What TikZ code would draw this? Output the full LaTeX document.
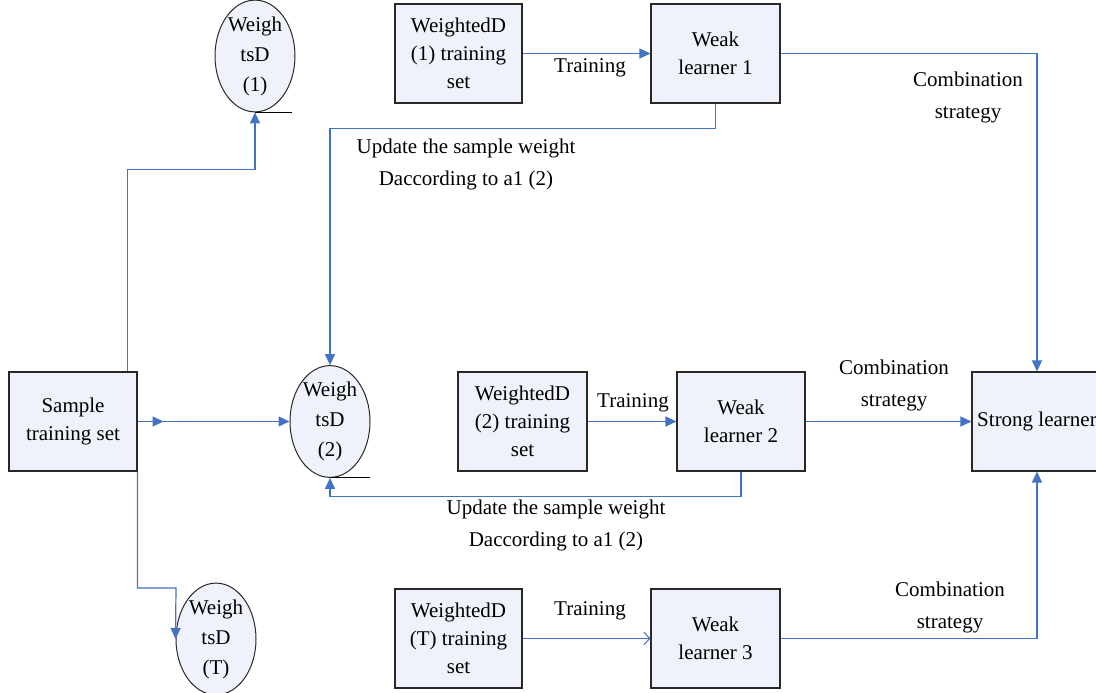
\documentclass[tikz,border=0pt]{standalone}
\usepackage{fontspec}
\setmainfont{Liberation Serif}
\usetikzlibrary{arrows.meta,shapes.geometric}
\definecolor{lineblue}{RGB}{68,114,196}
\definecolor{boxfill}{RGB}{239,242,250}
\definecolor{boxdraw}{RGB}{40,40,40}
\tikzset{
  box/.style={draw=boxdraw, line width=1.1pt, fill=boxfill, minimum width=128pt, minimum height=99pt, align=center, inner sep=2pt, font=\fontsize{21}{28}\selectfont},
  ell/.style={ellipse, draw=boxdraw, line width=1pt, fill=boxfill, minimum width=80pt, minimum height=97pt, align=center, inner sep=0pt, font=\fontsize{21}{30}\selectfont},
  arr/.style={draw=lineblue, line width=1.2pt, -{Triangle[length=11pt,width=10pt]}},
  openarr/.style={draw=lineblue, line width=1.2pt, -{Straight Barb[length=6pt,width=13pt,line width=1pt]}},
  lbl/.style={align=center, inner sep=0pt, font=\fontsize{21}{32}\selectfont},
  uline/.style={draw=black, line width=1pt}
}
\begin{document}
\begin{tikzpicture}[x=1pt,y=-1pt]
\useasboundingbox (0,0) rectangle (1096,693);
\clip (0,0) rectangle (1096,693);
% nodes
\node[box] (sample) at (73,421.5) {Sample\\training set};
\node[ell] (e1) at (255,56) {Weigh\\tsD\\(1)};
\node[ell, minimum height=99pt] (e2) at (330,421.5) {Weigh\\tsD\\(2)};
\node[ell] (e3) at (216,639) {Weigh\\tsD\\(T)};
\node[box, minimum width=127pt] (w1) at (458.5,53.5) {WeightedD\\(1) training\\set};
\node[box, minimum width=129pt] (l1) at (715.5,53.5) {Weak\\learner 1};
\node[box, minimum width=129pt] (w2) at (522.5,421.5) {WeightedD\\(2) training\\set};
\node[box] (l2) at (741,421.5) {Weak\\learner 2};
\node[box, minimum width=127pt] (w3) at (458.5,638.5) {WeightedD\\(T) training\\set};
\node[box, minimum width=129pt] (l3) at (715.5,638.5) {Weak\\learner 3};
\node[box, minimum width=130pt] (strong) at (1037,421.5) {Strong learner};
% underlines of ellipses
\draw[uline] (e1.south) -- ++(37,0);
\draw[uline] (e2.south) -- ++(40,0);
\draw[uline] (e3.south) -- ++(40,0);
% connectors
\draw[arr] ([xshift=-10pt]sample.north east) -- ++(0,-202) -| (e1.south);
\draw[arr] (sample.east) -- (e2.west);
\draw[arr] (sample.east) -- ++(26,0);
\coordinate (t1) at (176,588);
\draw[arr] (sample.south east) |- (t1) -- (e3.west);
\draw[arr] (w1.east) -- (l1.west);
\draw[arr] (w2.east) -- (l2.west);
\draw[openarr] (w3.east) -- (l3.west);
\draw[arr] (l1.south) -- ++(0,25) -| (e2.north);
\draw[arr] (l2.south) -- ++(0,25) -| (e2.south);
\draw[arr] (l1.east) -| (strong.north);
\draw[arr] (l2.east) -- (strong.west);
\draw[arr] (l3.east) -| (strong.south);
% labels
\node[lbl] (tr1) at (590,68) {Training};
\node[lbl] (tr2) at (633,403) {Training};
\node[lbl] (tr3) at (590,611) {Training};
\node[lbl] (cs1) at (968,97) {Combination\\strategy};
\node[lbl] (cs2) at (894,385) {Combination\\strategy};
\node[lbl] (cs3) at (950,607) {Combination\\strategy};
\node[lbl] (up1) at (466,164) {Update the sample weight\\Daccording to a1 (2)};
\node[lbl] (up2) at (556,525) {Update the sample weight\\Daccording to a1 (2)};
\end{tikzpicture}
\end{document}
